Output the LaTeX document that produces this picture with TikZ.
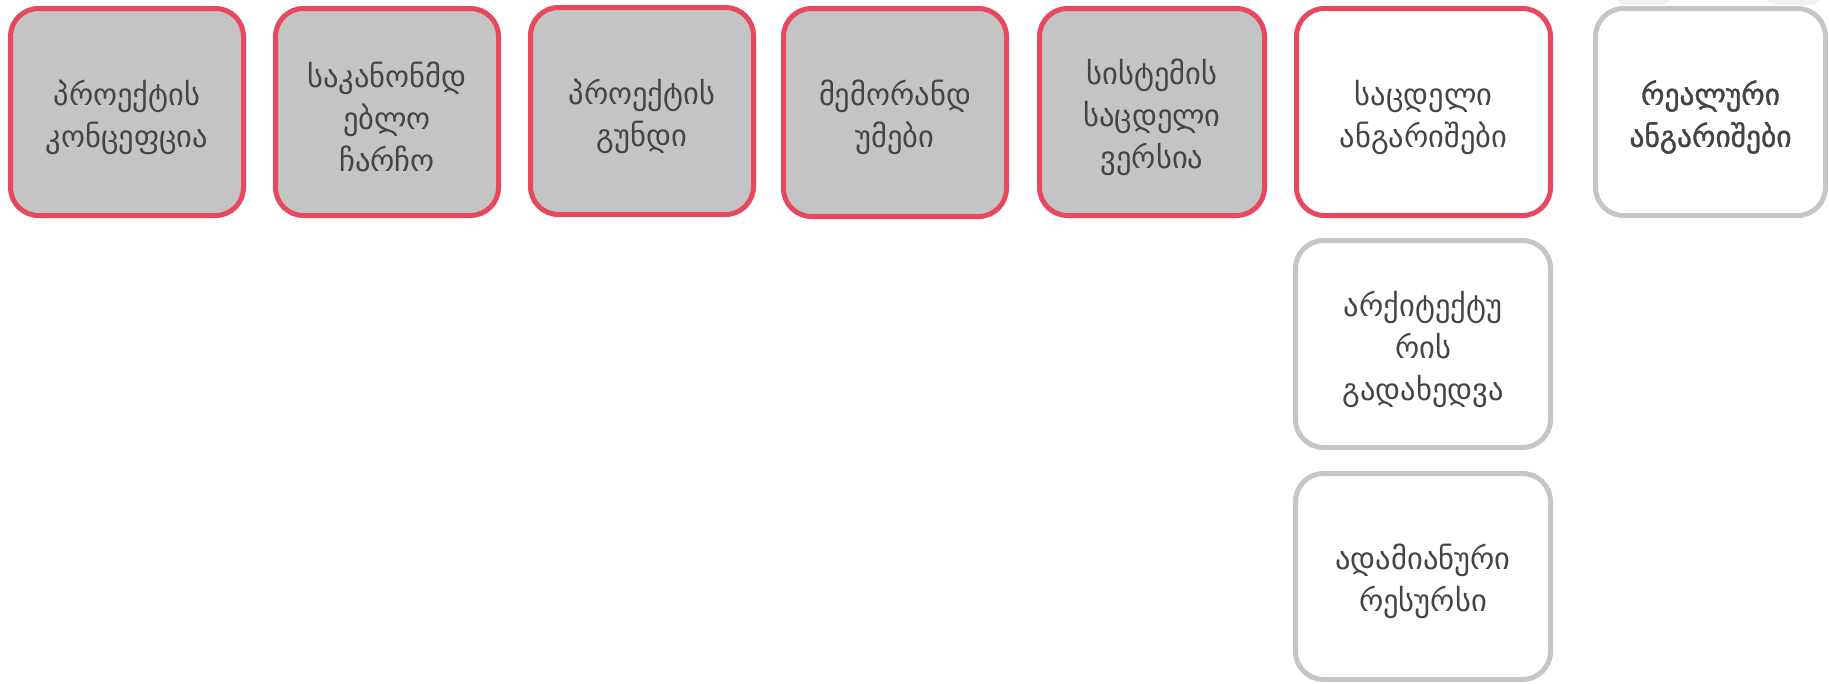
\documentclass[tikz,border=0pt]{standalone}
\usepackage{fontspec}
\newfontfamily\geo{DejaVu Sans}
\newfontfamily\geob[FakeBold=1.2]{DejaVu Sans}
\definecolor{accred}{HTML}{E8485E}
\definecolor{boxgray}{HTML}{C4C4C4}
\definecolor{edgegray}{HTML}{C6C6C6}
\definecolor{txt}{HTML}{444444}
\definecolor{ghost}{HTML}{F1F1F1}
\tikzset{
  card/.style={rounded corners=28pt, line width=5pt, inner sep=0pt},
  donecard/.style={card, draw=accred, fill=boxgray},
  curcard/.style={card, draw=accred, fill=white},
  nextcard/.style={card, draw=edgegray, fill=white},
  cardtext/.style={align=center, text=txt, inner sep=0pt, yshift=-5pt,
    font=\geo\fontsize{30.5}{42}\selectfont},
  boldtext/.style={cardtext, font=\geob\fontsize{29.5}{42}\selectfont},
}
\begin{document}
\begin{tikzpicture}[x=1pt,y=-1pt]
\useasboundingbox (0,0) rectangle (1829,683);
% faint ghost shapes at the top right
\fill[ghost] (1617,0) -- (1670,0) .. controls (1668,3) and (1664,5) .. (1655,5) -- (1630,5) .. controls (1622,5) and (1618,3) .. (1617,0) -- cycle;
\fill[ghost] (1767,0) -- (1820,0) .. controls (1819,3) and (1815,5) .. (1807,5) -- (1782,5) .. controls (1773,5) and (1769,3) .. (1767,0) -- cycle;
% boxes
\node[donecard, minimum width=233pt, minimum height=207pt] (n1) at (127,112) {};
\node[donecard, minimum width=223pt, minimum height=207pt] (n2) at (387,112) {};
\node[donecard, minimum width=223pt, minimum height=207pt] (n3) at (642,111) {};
\node[donecard, minimum width=223pt, minimum height=208pt] (n4) at (895,112.5) {};
\node[donecard, minimum width=225pt, minimum height=207pt] (n5) at (1152,112) {};
\node[curcard, minimum width=254pt, minimum height=207pt] (n6) at (1423.5,112) {};
\node[nextcard, minimum width=230pt, minimum height=207pt] (n7) at (1710.5,112) {};
\node[nextcard, minimum width=255pt, minimum height=207pt] (n8) at (1423,344) {};
\node[nextcard, minimum width=255pt, minimum height=206pt] (n9) at (1423,576.5) {};
% texts
\node[cardtext] (t1) at (n1.center) {პროექტის\\კონცეფცია};
\node[cardtext] (t2) at (n2.center) {საკანონმდ\\ებლო\\ჩარჩო};
\node[cardtext] (t3) at (n3.center) {პროექტის\\გუნდი};
\node[cardtext] (t4) at (n4.center) {მემორანდ\\უმები};
\node[cardtext] (t5) at (n5.center) {სისტემის\\საცდელი\\ვერსია};
\node[cardtext] (t6) at (n6.center) {საცდელი\\ანგარიშები};
\node[boldtext] (t7) at (n7.center) {რეალური\\ანგარიშები};
\node[cardtext] (t8) at (n8.center) {არქიტექტუ\\რის\\გადახედვა};
\node[cardtext] (t9) at (n9.center) {ადამიანური\\რესურსი};
\end{tikzpicture}
\end{document}
